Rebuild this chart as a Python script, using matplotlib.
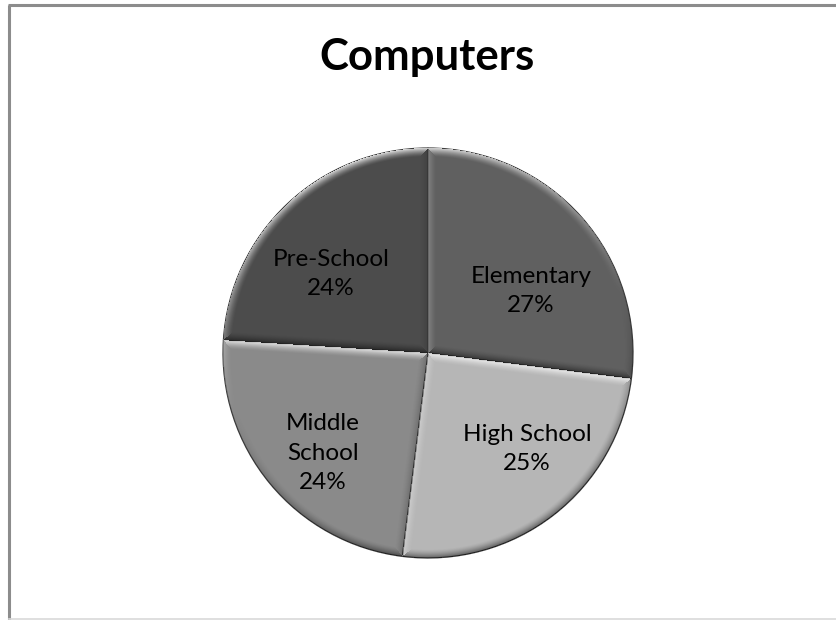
import numpy as np
import matplotlib.pyplot as plt

# chart data
title = "Computers"
levels = ["Elementary", "High School", "Middle\nSchool", "Pre-School"]
shares = [27, 25, 24, 24]
shades = ["#606060", "#b6b6b6", "#8a8a8a", "#4c4c4c"]

W, H = 837, 620
cx, cy, R = 428, H - 353, 205

fig = plt.figure(figsize=(W / 100, H / 100), dpi=100)
ax = fig.add_axes([0, 0, 1, 1])

wedges, _ = ax.pie(shares, colors=shades, startangle=90, counterclock=False,
                   center=(cx, cy), radius=R, frame=True,
                   wedgeprops=dict(edgecolor="#3c3c3c", linewidth=0.9))
ax.set_xlim(0, W)
ax.set_ylim(0, H)
ax.set_aspect("equal")
ax.axis("off")

# soft bevel: lighten edges facing up, darken edges facing down
xs = np.arange(W) + 0.5
ys = np.arange(H) + 0.5
X, Y = np.meshgrid(xs, ys)
dx, dy = X - cx, Y - cy
rr = np.hypot(dx, dy) + 1e-9
ang = np.degrees(np.arctan2(dy, dx))
light = np.array([-0.3, 1.0])
light /= np.linalg.norm(light)
bevel = 9.0
shade = np.zeros_like(rr)
for w in wedges:
    t1, t2 = w.theta1, w.theta2
    inside = (rr <= R) & (((ang - t1) % 360) <= (t2 - t1))
    dist = R - rr
    nx, ny = dx / rr, dy / rr
    for a, turn in ((t1, -90), (t2, 90)):
        ar = np.radians(a)
        d = np.abs(-dx * np.sin(ar) + dy * np.cos(ar))
        na = np.radians(a + turn)
        closer = d < dist
        dist = np.where(closer, d, dist)
        nx = np.where(closer, np.cos(na), nx)
        ny = np.where(closer, np.sin(na), ny)
    s = np.clip(1 - dist / bevel, 0, 1) ** 1.5 * (nx * light[0] + ny * light[1])
    shade[inside] = s[inside]

overlay = np.zeros((H, W, 4))
pos = shade > 0
overlay[pos, :3] = 1.0
overlay[pos, 3] = shade[pos] * 0.8
overlay[~pos, 3] = -shade[~pos] * 0.5
ax.imshow(overlay, extent=(0, W, 0, H), origin="lower", zorder=3,
          interpolation="bilinear")

# data labels
label_xy = [(531, 291), (527, 449), (323, 453), (331, 274)]
for name, val, (lx, ly) in zip(levels, shares, label_xy):
    ax.text(lx, H - ly, f"{name}\n{val}%", ha="center", va="center",
            fontsize=17.5, family="Lato", linespacing=1.5, zorder=4)

ax.text(427, H - 57, title, ha="center", va="center", fontsize=31.5,
        family="Lato", fontweight="bold")

# chart area border
ax.plot([8, W], [H - 5, H - 5], color="#8c8c8c", lw=2.2, solid_capstyle="butt")
ax.plot([9, 9], [0, H - 5], color="#8c8c8c", lw=2.2, solid_capstyle="butt")
ax.plot([9, W], [0.6, 0.6], color="#d9d9d9", lw=1.2)

fig.savefig("out.png", dpi=100)
